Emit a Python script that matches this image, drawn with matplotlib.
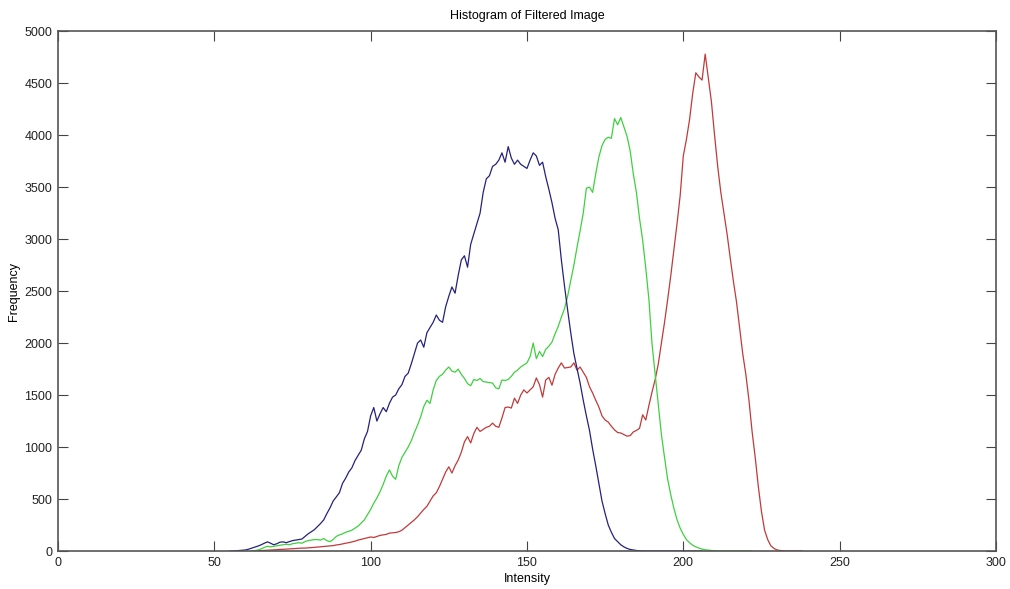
import matplotlib.pyplot as plt
import numpy as np

plt.rcParams['font.family'] = ['Liberation Sans Narrow', 'Liberation Sans', 'DejaVu Sans']

# histogram counts, one value per intensity level
blue_start = 55
blue_counts = [
    0, 0, 2, 5, 8, 10, 18, 28, 38, 48,                         # 55-64
    60, 75, 88, 75, 60, 70, 85, 88, 80, 90,                    # 65-74
    100, 105, 110, 115, 140, 165, 185, 205, 235, 265,          # 75-84
    300, 360, 415, 480, 520, 560, 650, 700, 760, 800,          # 85-94
    870, 920, 970, 1080, 1150, 1300, 1380, 1250, 1320, 1380,   # 95-104
    1340, 1420, 1480, 1500, 1560, 1600, 1680, 1710, 1800, 1900,  # 105-114
    2000, 2030, 1960, 2100, 2150, 2200, 2270, 2220, 2200, 2350,  # 115-124
    2450, 2540, 2480, 2650, 2800, 2840, 2730, 2950, 3050, 3150,  # 125-134
    3250, 3450, 3580, 3610, 3700, 3720, 3760, 3830, 3740, 3890,  # 135-144
    3780, 3720, 3760, 3720, 3700, 3680, 3760, 3830, 3800, 3710,  # 145-154
    3740, 3600, 3480, 3350, 3200, 3090, 2800, 2550, 2320, 2100,  # 155-164
    1900, 1760, 1615, 1450, 1300, 1160, 980, 820, 650, 480,    # 165-174
    360, 250, 180, 120, 90, 60, 40, 25, 15, 10,                # 175-184
    5, 2, 0, 0, 0, 0, 0, 0, 0, 0,                              # 185-194
    0, 0, 0, 0, 0, 0, 0, 0, 0, 0, 0, 0,                        # 195-206
]

green_start = 62
green_counts = [
    0, 5, 10, 20, 35, 45, 40, 45,                              # 62-69
    50, 55, 60, 65, 60, 70, 75, 80, 75, 90,                    # 70-79
    100, 105, 110, 110, 105, 120, 100, 90, 110, 140,           # 80-89
    155, 165, 180, 190, 200, 220, 240, 270, 300, 350,          # 90-99
    400, 460, 510, 570, 640, 720, 780, 720, 690, 820,          # 100-109
    900, 950, 1000, 1060, 1140, 1210, 1290, 1390, 1450, 1420,  # 110-119
    1550, 1640, 1680, 1700, 1740, 1770, 1730, 1720, 1750, 1700,  # 120-129
    1660, 1610, 1590, 1650, 1640, 1660, 1630, 1625, 1620, 1615,  # 130-139
    1570, 1560, 1645, 1640, 1650, 1680, 1720, 1740, 1770, 1790,  # 140-149
    1810, 1870, 2000, 1850, 1920, 1870, 1940, 1970, 2010, 2090,  # 150-159
    2160, 2250, 2330, 2450, 2600, 2750, 2920, 3080, 3250, 3490,  # 160-169
    3500, 3450, 3630, 3790, 3900, 3960, 3980, 3970, 4160, 4100,  # 170-179
    4170, 4080, 3990, 3850, 3630, 3450, 3200, 2990, 2720, 2420,  # 180-189
    1990, 1700, 1420, 1120, 900, 690, 540, 410, 300, 220,      # 190-199
    160, 110, 80, 55, 40, 28, 18, 12, 8, 5,                    # 200-209
    2, 0, 0, 0, 0, 0, 0, 0, 0, 0, 0, 0, 0,                     # 210-222
]

red_start = 63
red_counts = [
    0, 2, 4, 6, 8, 10, 12,                                     # 63-69
    14, 15, 16, 18, 20, 22, 24, 26, 28, 28,                    # 70-79
    30, 32, 35, 38, 40, 45, 48, 50, 52, 58,                    # 80-89
    62, 68, 75, 80, 87, 95, 105, 112, 120, 128,                # 90-99
    135, 130, 140, 150, 155, 160, 172, 175, 178, 185,          # 100-109
    200, 225, 250, 275, 300, 330, 365, 400, 430, 480,          # 110-119
    530, 560, 620, 690, 760, 810, 750, 820, 875, 950,          # 120-129
    1050, 1100, 1040, 1130, 1190, 1150, 1170, 1190, 1200, 1230,  # 130-139
    1200, 1190, 1280, 1380, 1385, 1375, 1470, 1420, 1500, 1550,  # 140-149
    1520, 1550, 1580, 1665, 1600, 1480, 1645, 1670, 1595, 1700,  # 150-159
    1760, 1810, 1760, 1765, 1770, 1810, 1740, 1770, 1720, 1670,  # 160-169
    1580, 1520, 1450, 1385, 1300, 1260, 1240, 1200, 1165, 1140,  # 170-179
    1135, 1120, 1105, 1110, 1145, 1160, 1180, 1310, 1260, 1400,  # 180-189
    1530, 1650, 1800, 2000, 2200, 2420, 2650, 2900, 3150, 3420,  # 190-199
    3800, 3960, 4150, 4400, 4600, 4560, 4530, 4780, 4550, 4320,  # 200-209
    4000, 3700, 3450, 3250, 3050, 2820, 2600, 2400, 2150, 1900,  # 210-219
    1700, 1450, 1150, 900, 620, 380, 200, 110, 50, 25,         # 220-229
    10, 5, 2, 0, 0, 0, 0, 0, 0,                                # 230-238
]

series = [
    (red_start, red_counts, '#c03a3a'),
    (green_start, green_counts, '#3fd03f'),
    (blue_start, blue_counts, '#24227c'),
]

fig = plt.figure(figsize=(10.10, 5.89), dpi=100)
ax = fig.add_axes([0.0574, 0.0645, 0.9287, 0.8825])

for start, counts, color in series:
    x = np.arange(start, start + len(counts))
    ax.plot(x, counts, color=color, lw=0.9)

ax.set_xlim(0, 300)
ax.set_ylim(0, 5000)
ax.set_xticks(np.arange(0, 301, 50))
ax.set_yticks(np.arange(0, 5001, 500))
ax.tick_params(direction='in', length=7, width=0.8, color='#444444',
               labelsize=9, labelcolor='#222222', top=True, right=True, pad=4)
for sp in ax.spines.values():
    sp.set_color('#555555')
    sp.set_linewidth(1.2)

ax.set_title('Histogram of Filtered Image', fontsize=9, pad=9)
ax.set_xlabel('Intensity', fontsize=9, labelpad=3)
ax.set_ylabel('Frequency', fontsize=9, labelpad=3)

fig.savefig('out.png', dpi=100, facecolor='white')
